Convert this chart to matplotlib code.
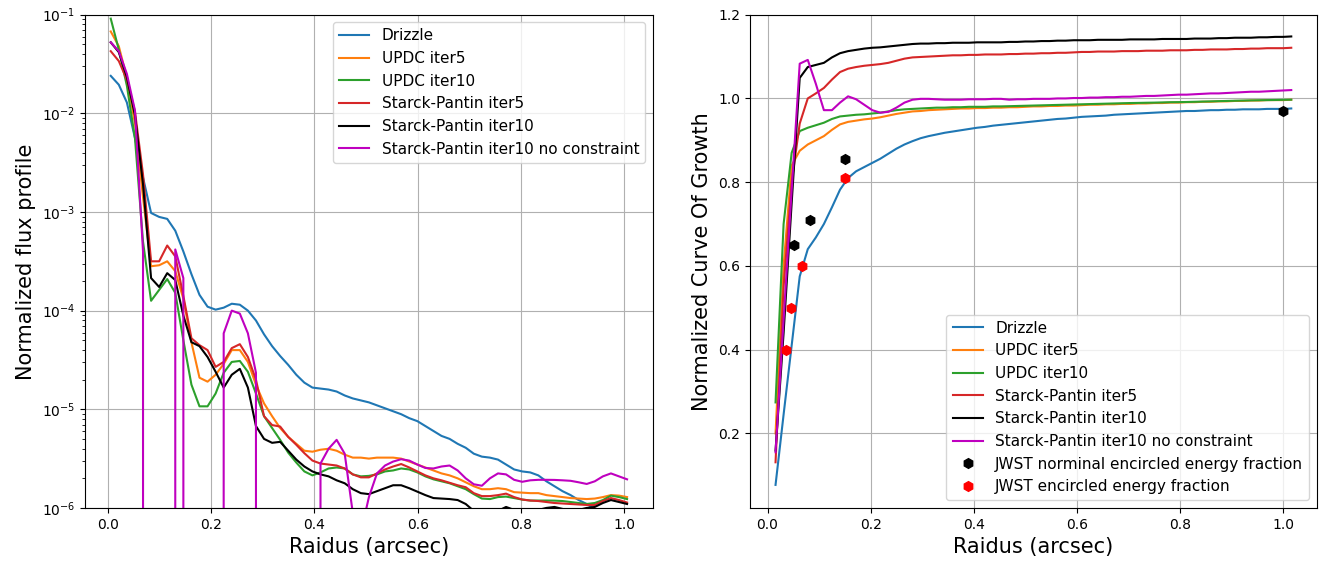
import numpy as np
import matplotlib
matplotlib.use("Agg")
import matplotlib.pyplot as plt

# radius sampling of the two panels (arcsec)
radius_profile = np.linspace(0.005, 1.006, 65)
radius_cog = np.linspace(0.0155, 1.016, 65)

labels = ["Drizzle", "UPDC iter5", "UPDC iter10", "Starck-Pantin iter5",
          "Starck-Pantin iter10", "Starck-Pantin iter10 no constraint"]
colors = ["tab:blue", "tab:orange", "tab:green", "tab:red", "k", "m"]

NEG = -np.inf  # profile value <= 0 (clipped on the log axis)

# log10 of normalized flux profile
prof_drizzle = [
    -1.62, -1.71, -1.89, -2.25, -2.65, -3.01, -3.05, -3.07, -3.19, -3.40,
    -3.63, -3.84, -3.96, -3.99, -3.97, -3.93, -3.94, -4.00, -4.10, -4.24,
    -4.36, -4.46, -4.55, -4.65, -4.73, -4.78, -4.79, -4.80, -4.82, -4.86,
    -4.89, -4.91, -4.93, -4.96, -4.99, -5.02, -5.05, -5.09, -5.12, -5.17,
    -5.22, -5.27, -5.30, -5.35, -5.39, -5.45, -5.48, -5.49, -5.51, -5.56,
    -5.61, -5.63, -5.64, -5.67, -5.73, -5.78, -5.83, -5.87, -5.92, -5.96,
    -6.01, -6.05, -6.07, -6.08, -6.08]
prof_updc5 = [
    -1.17, -1.32, -1.64, -2.10, -2.85, -3.55, -3.54, -3.50, -3.60, -3.88,
    -4.32, -4.68, -4.72, -4.65, -4.54, -4.40, -4.40, -4.52, -4.75, -4.94,
    -5.07, -5.19, -5.28, -5.35, -5.42, -5.43, -5.41, -5.40, -5.42, -5.46,
    -5.49, -5.49, -5.50, -5.49, -5.49, -5.49, -5.50, -5.53, -5.56, -5.59,
    -5.62, -5.65, -5.67, -5.70, -5.74, -5.78, -5.81, -5.81, -5.80, -5.81,
    -5.84, -5.845, -5.85, -5.85, -5.87, -5.88, -5.89, -5.90, -5.905, -5.91,
    -5.905, -5.89, -5.87, -5.875, -5.89]
prof_updc10 = [
    -1.04, -1.355, -1.72, -2.25, -3.30, -3.90, -3.79, -3.68, -3.82, -4.30,
    -4.75, -4.97, -4.97, -4.84, -4.63, -4.52, -4.51, -4.62, -4.84, -5.07,
    -5.19, -5.31, -5.44, -5.54, -5.63, -5.67, -5.64, -5.60, -5.59, -5.60,
    -5.66, -5.68, -5.675, -5.66, -5.63, -5.62, -5.60, -5.61, -5.64, -5.68,
    -5.71, -5.73, -5.75, -5.78, -5.81, -5.86, -5.905, -5.91, -5.89, -5.885,
    -5.90, -5.915, -5.925, -5.925, -5.925, -5.926, -5.93, -5.94, -5.95, -5.96,
    -5.95, -5.92, -5.875, -5.89, -5.91]
prof_sp5 = [
    -1.37, -1.47, -1.66, -1.98, -2.62, -3.50, -3.50, -3.34, -3.45, -3.85,
    -4.28, -4.35, -4.40, -4.57, -4.52, -4.38, -4.34, -4.47, -4.70, -5.07,
    -5.16, -5.175, -5.28, -5.36, -5.445, -5.52, -5.55, -5.56, -5.57, -5.60,
    -5.66, -5.69, -5.69, -5.65, -5.61, -5.58, -5.555, -5.59, -5.63, -5.67,
    -5.70, -5.72, -5.745, -5.77, -5.79, -5.85, -5.88, -5.88, -5.87, -5.855,
    -5.89, -5.915, -5.925, -5.93, -5.94, -5.95, -5.955, -5.96, -5.965, -5.97,
    -5.97, -5.93, -5.90, -5.92, -5.945]
prof_sp10 = [
    -1.28, -1.38, -1.63, -2.02, -2.72, -3.67, -3.76, -3.62, -3.69, -4.05,
    -4.32, -4.36, -4.47, -4.62, -4.78, -4.65, -4.59, -4.78, -5.17, -5.30,
    -5.34, -5.33, -5.42, -5.51, -5.58, -5.63, -5.66, -5.68, -5.72, -5.75,
    -5.81, -5.85, -5.86, -5.83, -5.80, -5.77, -5.77, -5.80, -5.835, -5.87,
    -5.90, -5.905, -5.91, -5.92, -5.96, -6.03, -6.08, -6.07, -6.03, -5.99,
    -6.02, -6.05, -6.04, -6.02, -6.00, -5.99, -6.01, -6.03, -6.02, -6.00,
    -5.99, -5.95, -5.92, -5.94, -5.96]
prof_sp10_nc = [
    -1.28, -1.37, -1.60, -1.97, -3.40, NEG, NEG, NEG, -3.38, -3.67,
    NEG, NEG, NEG, NEG, -4.23, -4.00, -4.03, -4.23, -4.63, NEG,
    NEG, NEG, NEG, NEG, NEG, NEG, -5.55, -5.40, -5.31, -5.45,
    -6.05, -6.25, -5.89, -5.65, -5.57, -5.53, -5.506, -5.52, -5.56, -5.595,
    -5.60, -5.58, -5.57, -5.62, -5.70, -5.76, -5.775, -5.70, -5.65, -5.66,
    -5.715, -5.735, -5.72, -5.715, -5.715, -5.716, -5.72, -5.725, -5.74, -5.757,
    -5.73, -5.68, -5.65, -5.68, -5.71]

# normalized curve of growth
cog_drizzle = [
    0.077, 0.245, 0.41, 0.575, 0.64, 0.668, 0.70, 0.74, 0.782, 0.81,
    0.826, 0.836, 0.846, 0.856, 0.868, 0.88, 0.89, 0.898, 0.905, 0.91,
    0.914, 0.918, 0.921, 0.924, 0.927, 0.93, 0.932, 0.935, 0.937, 0.939,
    0.941, 0.943, 0.945, 0.947, 0.949, 0.951, 0.952, 0.954, 0.956, 0.957,
    0.958, 0.959, 0.961, 0.962, 0.963, 0.964, 0.965, 0.966, 0.967, 0.968,
    0.969, 0.97, 0.97, 0.971, 0.972, 0.972, 0.973, 0.973, 0.974, 0.974,
    0.974, 0.975, 0.975, 0.975, 0.976]
cog_updc5 = [
    0.20, 0.60, 0.84, 0.875, 0.89, 0.90, 0.91, 0.925, 0.938, 0.944,
    0.947, 0.95, 0.952, 0.955, 0.959, 0.963, 0.966, 0.969, 0.97, 0.972,
    0.973, 0.974, 0.975, 0.976, 0.976, 0.977, 0.977, 0.978, 0.978, 0.979,
    0.979, 0.98, 0.981, 0.981, 0.982, 0.982, 0.983, 0.983, 0.984, 0.985,
    0.985, 0.986, 0.986, 0.987, 0.987, 0.988, 0.988, 0.989, 0.989, 0.99,
    0.99, 0.991, 0.991, 0.992, 0.992, 0.993, 0.993, 0.994, 0.994, 0.995,
    0.995, 0.996, 0.996, 0.996, 0.997]
cog_updc10 = [
    0.274, 0.70, 0.87, 0.922, 0.93, 0.936, 0.942, 0.951, 0.957, 0.959,
    0.961, 0.962, 0.964, 0.966, 0.969, 0.972, 0.974, 0.975, 0.976, 0.977,
    0.978, 0.978, 0.979, 0.979, 0.98, 0.98, 0.98, 0.981, 0.981, 0.9815,
    0.982, 0.9825, 0.983, 0.9835, 0.984, 0.9845, 0.985, 0.9855, 0.986, 0.9865,
    0.987, 0.9875, 0.988, 0.9885, 0.989, 0.9893, 0.9897, 0.99, 0.9905, 0.991,
    0.9912, 0.9915, 0.992, 0.9925, 0.993, 0.9935, 0.994, 0.9945, 0.995, 0.9953,
    0.9957, 0.996, 0.9963, 0.9967, 0.997]
cog_sp5 = [
    0.131, 0.55, 0.80, 0.94, 1.0, 1.012, 1.025, 1.045, 1.063, 1.071,
    1.075, 1.078, 1.08, 1.082, 1.085, 1.09, 1.095, 1.098, 1.099, 1.10,
    1.101, 1.102, 1.103, 1.103, 1.104, 1.104, 1.105, 1.105, 1.105, 1.106,
    1.106, 1.107, 1.107, 1.108, 1.108, 1.109, 1.109, 1.11, 1.111, 1.111,
    1.112, 1.112, 1.112, 1.113, 1.113, 1.113, 1.114, 1.114, 1.114, 1.115,
    1.115, 1.115, 1.116, 1.116, 1.117, 1.117, 1.117, 1.118, 1.118, 1.119,
    1.119, 1.12, 1.12, 1.12, 1.121]
cog_sp10 = [
    0.159, 0.44, 0.75, 1.049, 1.075, 1.08, 1.085, 1.098, 1.108, 1.113,
    1.116, 1.119, 1.121, 1.122, 1.124, 1.126, 1.128, 1.13, 1.131, 1.131,
    1.132, 1.132, 1.133, 1.133, 1.133, 1.134, 1.134, 1.134, 1.134, 1.135,
    1.135, 1.136, 1.136, 1.137, 1.137, 1.138, 1.138, 1.139, 1.139, 1.139,
    1.14, 1.14, 1.14, 1.14, 1.141, 1.141, 1.141, 1.141, 1.142, 1.142,
    1.142, 1.142, 1.143, 1.143, 1.143, 1.144, 1.144, 1.145, 1.145, 1.145,
    1.146, 1.146, 1.147, 1.147, 1.148]
cog_sp10_nc = [
    0.155, 0.47, 0.78, 1.083, 1.092, 1.035, 0.972, 0.972, 0.99, 1.005,
    0.998, 0.985, 0.972, 0.966, 0.968, 0.978, 0.99, 0.997, 0.999, 0.999,
    0.998, 0.997, 0.997, 0.997, 0.998, 0.998, 0.998, 0.999, 0.999, 0.997,
    0.998, 0.998, 0.999, 0.999, 0.999, 1.0, 1.0, 1.001, 1.001, 1.002,
    1.002, 1.003, 1.003, 1.004, 1.004, 1.005, 1.006, 1.006, 1.007, 1.008,
    1.009, 1.009, 1.01, 1.011, 1.012, 1.012, 1.013, 1.014, 1.015, 1.016,
    1.016, 1.017, 1.018, 1.019, 1.02]

# JWST encircled energy reference points
jwst_nom_r = [0.052, 0.083, 0.15, 1.0]
jwst_nom_ee = [0.65, 0.71, 0.855, 0.97]
jwst_r = [0.035, 0.045, 0.067, 0.15]
jwst_ee = [0.40, 0.50, 0.60, 0.81]

profiles = [prof_drizzle, prof_updc5, prof_updc10, prof_sp5, prof_sp10, prof_sp10_nc]
cogs = [cog_drizzle, cog_updc5, cog_updc10, cog_sp5, cog_sp10, cog_sp10_nc]

fig = plt.figure(figsize=(13.27, 5.65), dpi=100)
ax1 = fig.add_axes([0.064, 0.101, 0.428, 0.873])
ax2 = fig.add_axes([0.565, 0.101, 0.4275, 0.873])

# left: flux profile on log scale
for prof, lab, col in zip(profiles, labels, colors):
    ax1.plot(radius_profile, 10.0 ** np.asarray(prof), color=col, label=lab)
ax1.set_yscale("log")
ax1.set_ylim(1e-6, 1e-1)
ax1.grid(True)
ax1.set_xlabel("Raidus (arcsec)", fontsize=15)
ax1.set_ylabel("Normalized flux profile", fontsize=15)
ax1.legend(loc="upper right", fontsize=11)

# right: curve of growth
for cog, lab, col in zip(cogs, labels, colors):
    ax2.plot(radius_cog, cog, color=col, label=lab)
ax2.plot(jwst_nom_r, jwst_nom_ee, "h", color="k", ms=7, linestyle="none",
         label="JWST norminal encircled energy fraction")
ax2.plot(jwst_r, jwst_ee, "h", color="r", ms=7, linestyle="none",
         label="JWST encircled energy fraction")
ax2.set_ylim(0.022, 1.2)
ax2.grid(True)
ax2.set_xlabel("Raidus (arcsec)", fontsize=15)
ax2.set_ylabel("Normalized Curve Of Growth", fontsize=15)
ax2.legend(loc="lower right", fontsize=11)

fig.savefig("out.png", dpi=100)
